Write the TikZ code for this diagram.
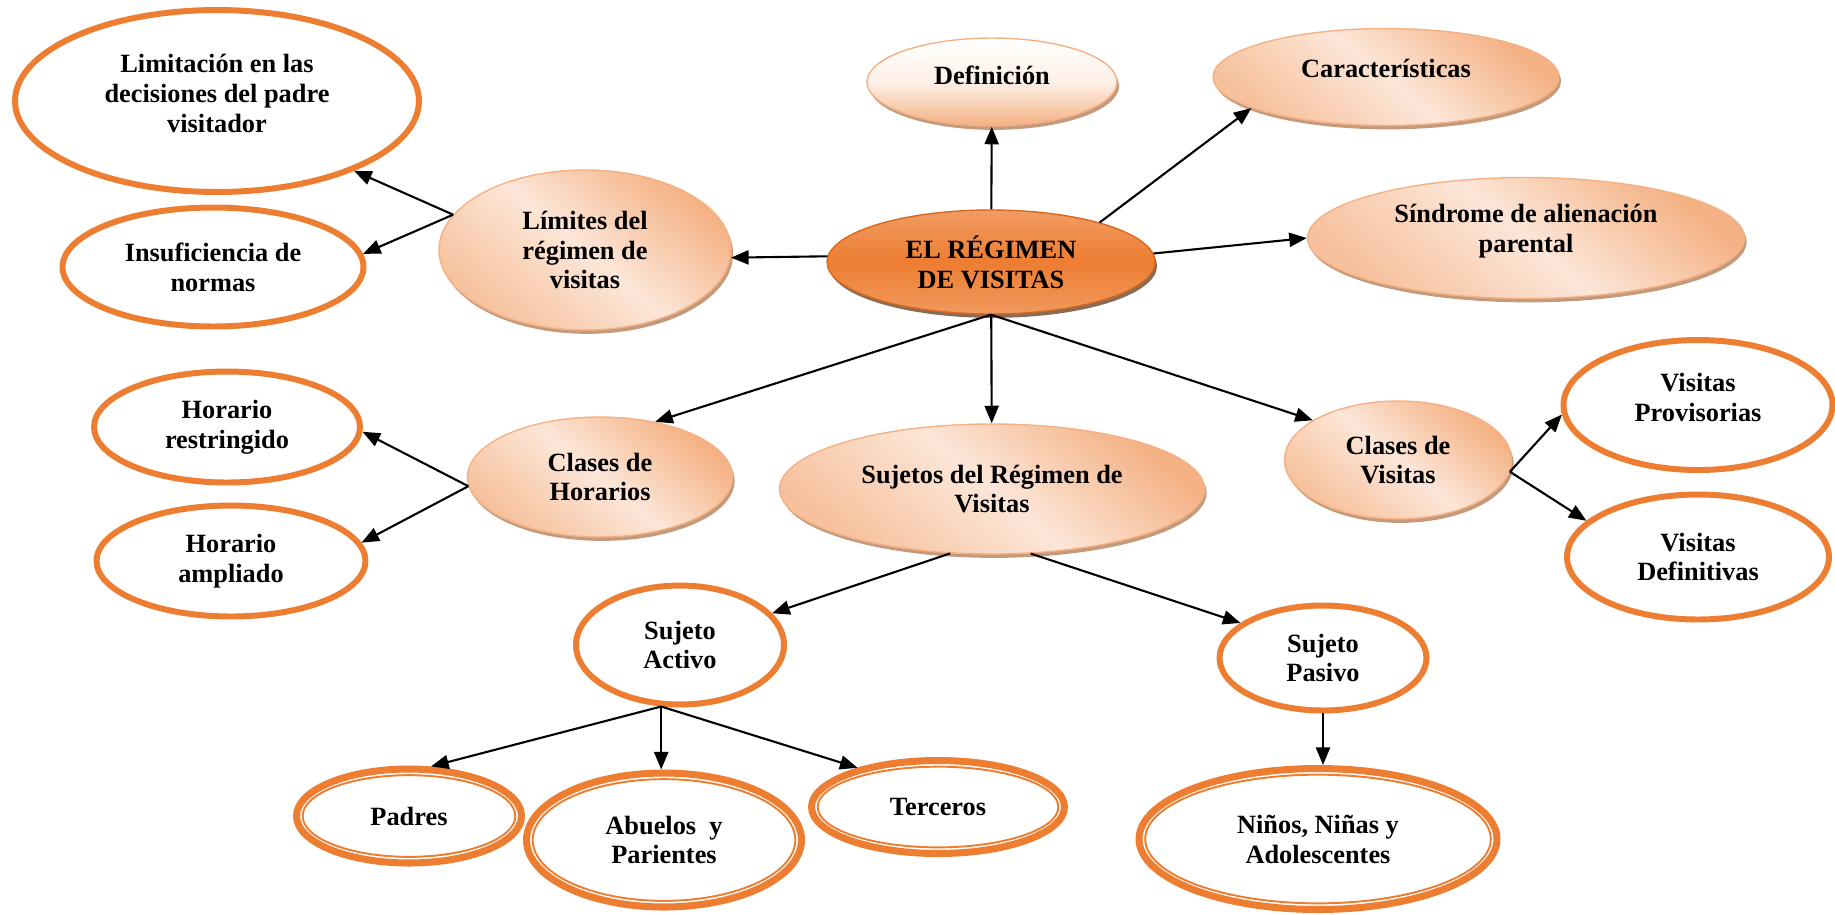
\documentclass[tikz,border=0pt]{standalone}
\usepackage{fontspec}
\setmainfont{Liberation Serif}
\usepackage{tikz}
\usetikzlibrary{shapes,arrows.meta,shadows,calc}
\definecolor{naranja}{HTML}{ED7D31}
\definecolor{durazno}{HTML}{F4B183}
\definecolor{palido}{HTML}{FCE6D8}
\definecolor{sombra}{HTML}{C49A7C}
\definecolor{bordeosc}{HTML}{D8691C}
\tikzstyle{every node}=[font=\bfseries\fontsize{15}{17}\selectfont, align=center, inner sep=0pt]
\tikzstyle{suave}=[ellipse, draw=durazno, line width=0.8pt, top color=durazno, bottom color=durazno!70!palido, middle color=palido, shading angle=-40, drop shadow={shadow xshift=1.2pt, shadow yshift=-2.2pt, fill=sombra, opacity=1}]
\tikzstyle{centro}=[ellipse, draw=bordeosc, line width=0.8pt, top color=durazno!60!naranja, bottom color=durazno!55!naranja, middle color=naranja, drop shadow={shadow xshift=1.2pt, shadow yshift=-2.2pt, fill=sombra!70!black, opacity=1}]
\tikzstyle{aro}=[ellipse, draw=naranja, line width=3.4pt, fill=white]
\tikzstyle{doble}=[ellipse, draw=naranja, line width=4pt, fill=white]
\tikzstyle{arofino}=[draw=naranja, line width=1.1pt]
\tikzstyle{flecha}=[line width=1.2pt, -{Triangle[length=10pt,width=8pt]}]

\begin{document}
\begin{tikzpicture}[x=0.02cm, y=-0.02cm]
\useasboundingbox (0,0) rectangle (1835,914);
% centro y ramas de arriba
\node[centro, minimum width=6.56cm, minimum height=2.08cm] (reg) at (991,262) {EL RÉGIMEN\\DE VISITAS};
\node[suave, top color=white, bottom color=durazno, middle color=palido!60!white, shading angle=0, minimum width=5cm, minimum height=1.76cm, text depth=8pt] (def) at (992,82) {Definición};
\node[suave, minimum width=6.92cm, minimum height=1.94cm, text depth=10pt] (car) at (1386,77) {Características};
\node[suave, minimum width=8.74cm, minimum height=2.42cm, text depth=11pt] (sin) at (1526,238) {Síndrome de alienación\\parental};
\node[suave, minimum width=5.84cm, minimum height=3.2cm] (lim) at (585,250) {Límites del\\régimen de\\visitas};
\node[aro, minimum width=8.08cm, minimum height=3.64cm, text depth=9pt] (limd) at (217,101) {Limitación en las\\decisiones del padre\\visitador};
\node[aro, minimum width=6.02cm, minimum height=2.38cm] (insu) at (213,267) {Insuficiencia de\\normas};
% horarios
\node[suave, minimum width=5.3cm, minimum height=2.4cm] (hor) at (600,477) {Clases de\\Horarios};
\node[aro, minimum width=5.32cm, minimum height=2.22cm] (rest) at (227,427) {Horario\\restringido};
\node[aro, minimum width=5.38cm, minimum height=2.22cm] (ampl) at (231,561) {Horario\\ampliado};
% visitas
\node[suave, minimum width=4.54cm, minimum height=2.36cm] (cvis) at (1398,460) {Clases de\\Visitas};
\node[aro, minimum width=5.38cm, minimum height=2.6cm, text depth=9pt] (prov) at (1698,405) {Visitas\\Provisorias};
\node[aro, minimum width=5.24cm, minimum height=2.5cm] (defi) at (1698,557) {Visitas\\Definitivas};
% sujetos
\node[suave, minimum width=8.5cm, minimum height=2.6cm] (suj) at (992,489) {Sujetos del Régimen de\\Visitas};
\node[aro, minimum width=4.16cm, minimum height=2.38cm] (act) at (680,645) {Sujeto\\Activo};
\node[aro, minimum width=4.14cm, minimum height=2.1cm] (pas) at (1323,658) {Sujeto\\Pasivo};
\node[doble, minimum width=4.5cm, minimum height=1.88cm] (pad) at (409,816) {Padres};
\node[doble, minimum width=5.5cm, minimum height=2.68cm] (abu) at (664,840) {Abuelos~~y\\Parientes};
\node[doble, minimum width=5.06cm, minimum height=1.86cm] (ter) at (938,807) {Terceros};
\node[doble, minimum width=7.16cm, minimum height=2.82cm] (nin) at (1318,839) {Niños, Niñas y\\Adolescentes};
\foreach \nodo in {pad,abu,ter,nin}
  \draw[arofino] let \p0=(\nodo.center), \p1=(\nodo.east), \p2=(\nodo.north) in
    (\p0) ellipse [x radius=\x1-\x0-5.5pt, y radius=\y2-\y0-5.5pt];
% flechas
\draw[flecha] (reg) -- (def);
\draw[flecha] (reg.20) -- (car.193);
\draw[flecha] (reg.3) -- (sin.west);
\draw[flecha] (reg.178) -- (lim.-3);
\draw[flecha] (lim.165) -- (limd.-27);
\draw[flecha] (lim.165) -- (insu.5);
\draw[flecha] (reg.south) -- (hor.45);
\draw[flecha] (reg) -- (suj);
\draw[flecha] (reg.south) -- (cvis.155);
\draw[flecha] (hor.184) -- (rest.-2);
\draw[flecha] (hor.184) -- (ampl.8);
\draw[flecha] (cvis.-6) -- (prov.184);
\draw[flecha] (cvis.-6) -- (defi.162);
\draw[flecha] (suj.237) -- (act.19);
\draw[flecha] (suj.301) -- (pas.157);
\draw[flecha] (act.253) -- (pad.66);
\draw[flecha] (act.253) -- (act.253 |- abu.north);
\draw[flecha] (act.253) -- (ter.154);
\draw[flecha] (pas.south) -- (pas.south |- nin.north);
\end{tikzpicture}
\end{document}
